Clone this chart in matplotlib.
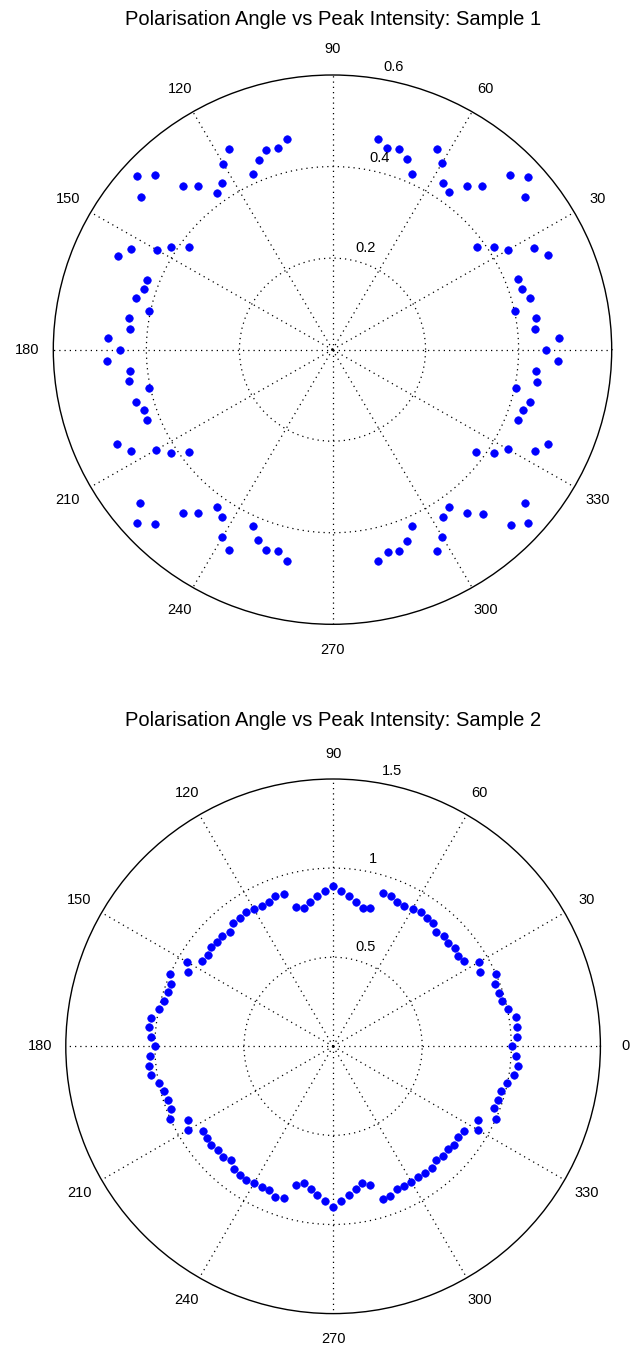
import numpy as np
import matplotlib
matplotlib.use("Agg")
import matplotlib.pyplot as plt

plt.rcParams['font.family'] = ['Liberation Sans', 'DejaVu Sans']

# ---------------- data ----------------
angle_ticks = [0, 30, 60, 90, 120, 150, 180, 210, 240, 270, 300, 330]

# Sample 1 (no readings near 90 and 270 degrees)
theta1_deg = list(range(0, 79, 3)) + list(range(102, 259, 3)) + list(range(282, 358, 3))
r1 = [0.459, 0.487, 0.438, 0.443, 0.402, 0.440, 0.429, 0.428, 0.506, 0.487,
      0.436, 0.413, 0.383, 0.531, 0.565, 0.540, 0.481, 0.460, 0.426, 0.435,
      0.472, 0.493, 0.419, 0.445, 0.461, 0.455, 0.470,
      0.471, 0.455, 0.459, 0.443, 0.419, 0.492, 0.469, 0.435, 0.422, 0.460,
      0.481, 0.539, 0.566, 0.530, 0.381, 0.413, 0.436, 0.486, 0.505, 0.427,
      0.426, 0.438, 0.403, 0.443, 0.438, 0.484, 0.457, 0.486, 0.437, 0.442,
      0.403, 0.438, 0.427, 0.427, 0.506, 0.487, 0.437, 0.413, 0.381, 0.532,
      0.565, 0.540, 0.481, 0.460, 0.424, 0.435, 0.473, 0.492, 0.421, 0.446,
      0.461, 0.455, 0.473,
      0.471, 0.458, 0.462, 0.447, 0.421, 0.493, 0.472, 0.437, 0.425, 0.460,
      0.482, 0.542, 0.566, 0.531, 0.382, 0.414, 0.435, 0.489, 0.508, 0.427,
      0.430, 0.440, 0.403, 0.445, 0.439, 0.486]
r1_ticks = [0.2, 0.4, 0.6]
r1_labels = ['0.2', '0.4', '0.6']

# Sample 2
theta2_deg = list(range(0, 358, 3))
r2 = [1.005, 1.035, 1.039, 1.039, 1.003, 0.981, 0.976, 0.971, 1.001, 0.923,
      0.947, 0.879, 0.866, 0.880, 0.870, 0.879, 0.864, 0.892, 0.892, 0.901,
      0.892, 0.881, 0.885, 0.904, 0.903, 0.804, 0.794, 0.819, 0.850, 0.870,
      0.902, 0.870, 0.848, 0.820, 0.792, 0.811, 0.899, 0.906, 0.885, 0.883,
      0.887, 0.898, 0.891, 0.889, 0.864, 0.878, 0.873, 0.884, 0.867, 0.874,
      0.947, 0.917, 1.003, 0.972, 0.977, 0.983, 0.996, 1.033, 1.037, 1.025,
      1.002, 1.031, 1.041, 1.036, 0.998, 0.980, 0.975, 0.975, 1.004, 0.915,
      0.939, 0.870, 0.873, 0.883, 0.868, 0.875, 0.859, 0.883, 0.890, 0.896,
      0.888, 0.883, 0.882, 0.903, 0.895, 0.804, 0.784, 0.809, 0.840, 0.871,
      0.899, 0.870, 0.839, 0.812, 0.786, 0.805, 0.901, 0.897, 0.878, 0.881,
      0.879, 0.876, 0.878, 0.880, 0.861, 0.874, 0.865, 0.876, 0.863, 0.873,
      0.940, 0.915, 0.999, 0.970, 0.971, 0.975, 0.997, 1.030, 1.041, 1.026]
r2_ticks = [0.5, 1.0, 1.5]
r2_labels = ['0.5', '1', '1.5']

titles = ['Polarisation Angle vs Peak Intensity: Sample 1',
          'Polarisation Angle vs Peak Intensity: Sample 2']

# ---------------- layout ----------------
W, H = 635, 1346
fig = plt.figure(figsize=(W / 100, H / 100), dpi=100)
fig.patch.set_facecolor('white')


def box(x0, x1, y0, y1):
    return [x0 / W, 1 - y1 / H, (x1 - x0) / W, (y1 - y0) / H]


def polar_panel(rect, theta_deg, r, rticks, rlabels, title, title_y, shown_angles):
    ax = fig.add_axes(rect, projection='polar')
    ax.set_aspect('auto')
    rmax = rticks[-1]
    ax.set_rlim(0, rmax)
    ax.set_rticks(rticks[:-1])
    ax.set_yticklabels([])
    ax.set_thetagrids(angle_ticks, labels=[''] * len(angle_ticks))
    ax.grid(True, color='black', linestyle=(0, (1, 3.2)), linewidth=0.9)
    ax.spines['polar'].set_color('black')
    ax.spines['polar'].set_linewidth(1.0)
    ax.tick_params(length=0)
    ax.plot(np.deg2rad(theta_deg), r, linestyle='none', marker='o',
            markersize=5.4, color='#0000ff', markeredgecolor='#0000ff',
            markeredgewidth=0.5, clip_on=False, zorder=3)
    for a in shown_angles:
        ax.text(np.deg2rad(a), rmax * 1.095, str(a), ha='center', va='center',
                fontsize=10.5, color='black', clip_on=False)
    for rv, lab in zip(rticks, rlabels):
        ax.annotate(lab, xy=(np.deg2rad(81.3), rv), xytext=(6.1, 5.0),
                    textcoords='offset points', ha='left', va='baseline',
                    fontsize=10.5, color='black', annotation_clip=False)
    fig.text(333 / W, 1 - title_y / H, title, ha='center', va='baseline',
             fontsize=14.5, color='black')
    return ax


# the 0-degree label of the first panel falls outside the picture in the reference
polar_panel(box(53.3, 611.7, 75.0, 624.3), theta1_deg, r1, r1_ticks, r1_labels,
            titles[0], 25, angle_ticks[1:])
polar_panel(box(65.8, 600.4, 779.0, 1313.6), theta2_deg, r2, r2_ticks, r2_labels,
            titles[1], 726, angle_ticks)

fig.savefig('out.png', dpi=100, facecolor='white')
